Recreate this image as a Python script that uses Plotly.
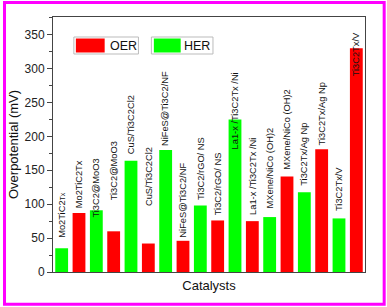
import plotly.graph_objects as go

catalysts = ["Mo2TiC2Tx", "Ti3C2@MoO3", "CuS/Ti3C2Cl2", "NiFeS@Ti3C2/NF", "Ti3C2/rGO/ NS",
             "La1-x /Ti3C2Tx /Ni", "MXene/NiCo (OH)2", "Ti3C2Tx/Ag Np", "Ti3C2Tx/V"]
her_values = [35, 91, 164, 180, 98, 225, 81, 117.5, 79]
oer_values = [87, 60, 42, 46, 76, 75, 141, 181, 330]
her_labels = ["Mo2TiC2<span style='font-size:7px'>Tx</span>", "Ti3C2@MoO3", "CuS/Ti3C2Cl2",
              "NiFeS@Ti3C2/NF", "Ti3C2/rGO/ NS", "La1-x /Ti3C2Tx /Ni", "MXene/NiCo (OH)2",
              "Ti3C2Tx/Ag Np", "Ti3C2Tx/V"]
oer_labels = ["Mo2TiC2Tx", "Ti3C2@MoO3", "CuS/Ti3C2Cl2", "NiFeS@Ti3C2/NF", "Ti3C2/rGO/ NS",
              "La1-x /Ti3C2Tx /Ni", "MXene/NiCo (OH)2", "Ti3C2Tx/Ag Np", "Ti3C2Tx/V"]
# label base heights (mV) as placed in the reference
her_label_y = [47, 77, 170, 183, 103, 177, 91, 124, 87]
oer_label_y = [91, 103, 94, 47, 81, 81, 147, 184, 286]

RED = "#FF0000"
GREEN = "#00FF00"
FONT = "Liberation Sans, Arial, sans-serif"

fig = go.Figure()
fig.add_trace(go.Bar(x=catalysts, y=her_values, name="HER", marker=dict(color=GREEN, line=dict(width=0))))
fig.add_trace(go.Bar(x=catalysts, y=oer_values, name="OER", marker=dict(color=RED, line=dict(width=0))))

annotations = []
for i in range(len(catalysts)):
    annotations.append(dict(x=i - 0.25, y=her_label_y[i], xref="x", yref="y", text=her_labels[i],
                            textangle=-90, showarrow=False, xanchor="center", yanchor="bottom",
                            font=dict(family=FONT, size=9.3, color="#111")))
    annotations.append(dict(x=i + 0.25, y=oer_label_y[i], xref="x", yref="y", text=oer_labels[i],
                            textangle=-90, showarrow=False, xanchor="center", yanchor="bottom",
                            font=dict(family=FONT, size=9.3, color="#111")))

W, H = 387, 307
L, R, T, B = 51, 22, 17, 35
pw, ph = W - L - R, H - T - B


def px(x):
    return (x - L) / pw


def py(y):
    return (H - B - y) / ph


# manual legend
annotations.append(dict(x=px(106), y=py(45.5), xref="paper", yref="paper", text="OER", showarrow=False,
                        xanchor="left", yanchor="middle", font=dict(family=FONT, size=12.5, color="#111")))
annotations.append(dict(x=px(181), y=py(45.5), xref="paper", yref="paper", text="HER", showarrow=False,
                        xanchor="left", yanchor="middle", font=dict(family=FONT, size=12.5, color="#111")))

shapes = [
    dict(type="rect", xref="paper", yref="paper", x0=px(72), x1=px(137), y0=py(54), y1=py(37),
         line=dict(color="#BBBBBB", width=1), fillcolor="white"),
    dict(type="rect", xref="paper", yref="paper", x0=px(74), x1=px(103), y0=py(52.5), y1=py(38.5),
         line=dict(width=0), fillcolor=RED),
    dict(type="rect", xref="paper", yref="paper", x0=px(150), x1=px(212), y0=py(54), y1=py(37),
         line=dict(color="#BBBBBB", width=1), fillcolor="white"),
    dict(type="rect", xref="paper", yref="paper", x0=px(152.5), x1=px(179.5), y0=py(52.5), y1=py(38.5),
         line=dict(width=0), fillcolor=GREEN),
    # magenta image border
    dict(type="rect", xref="paper", yref="paper", x0=px(2.2), x1=px(384.3), y0=py(304.2), y1=py(2.5),
         line=dict(color="#FF00FF", width=3), fillcolor="rgba(0,0,0,0)"),
]

fig.update_layout(
    width=W, height=H,
    margin=dict(l=L, r=R, t=T, b=B, pad=0),
    paper_bgcolor="white", plot_bgcolor="white",
    barmode="group", bargap=0, bargroupgap=0.26,
    showlegend=False,
    font=dict(family=FONT, size=12, color="#222"),
    annotations=annotations,
    shapes=shapes,
)
fig.update_xaxes(
    range=[-0.5, 8.5], showticklabels=False, ticks="", showgrid=False, zeroline=False,
    showline=True, linecolor="#444", linewidth=1, mirror=True,
    title=dict(text="Catalysts", font=dict(family=FONT, size=13, color="#111"), standoff=8),
)
fig.update_yaxes(
    range=[0, 376], tickvals=[0, 50, 100, 150, 200, 250, 300, 350], ticks="outside", ticklen=5,
    tickwidth=1, tickcolor="#444", showgrid=False, zeroline=False,
    showline=True, linecolor="#444", linewidth=1, mirror=True,
    tickfont=dict(family=FONT, size=12, color="#222"),
    minor=dict(tickvals=[25, 75, 125, 175, 225, 275, 325, 375], ticks="outside", ticklen=3, tickcolor="#444"),
    title=dict(text="Overpotential (mV)", font=dict(family=FONT, size=13, color="#111"), standoff=3),
)

fig.write_html("out.html", config={"displayModeBar": False},
               post_script="document.body.style.margin='0';document.body.style.overflow='hidden';")
